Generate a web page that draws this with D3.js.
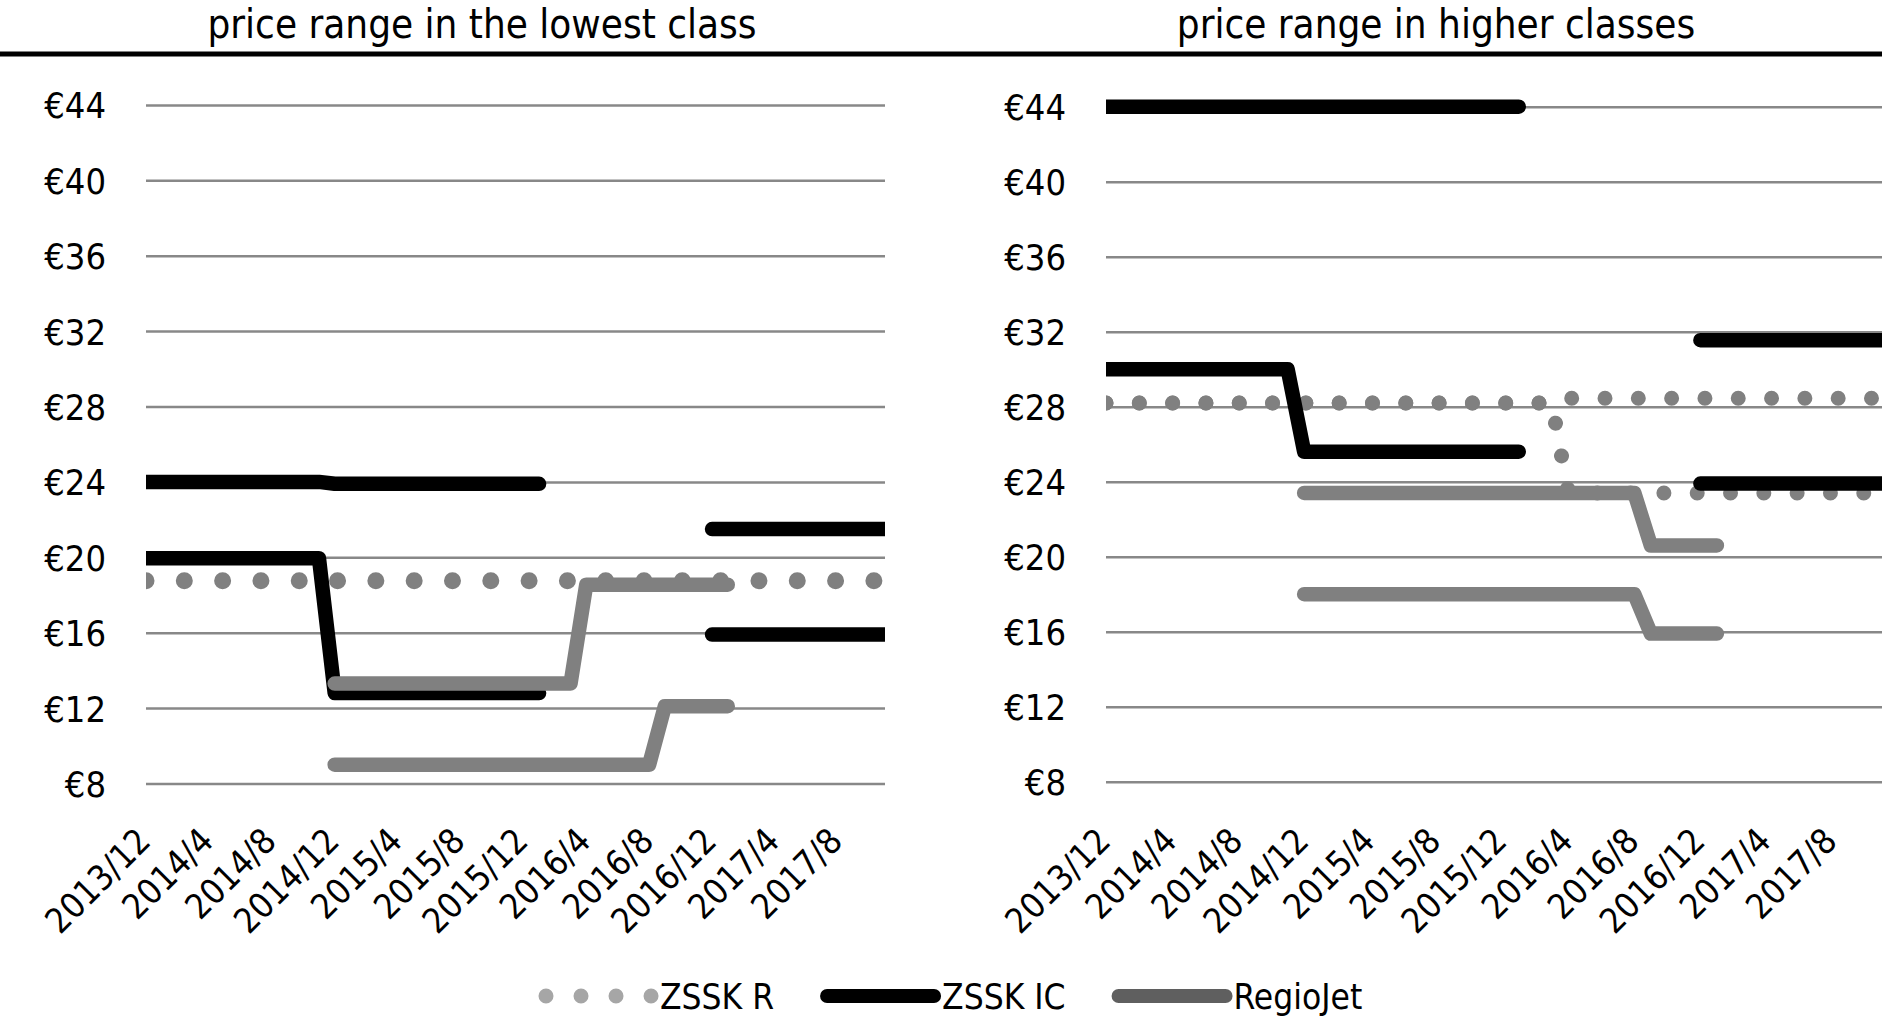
<!DOCTYPE html>
<html>
<head>
<meta charset="utf-8">
<script src="https://cdn.jsdelivr.net/npm/d3@7"></script>
<style>
  html, body { margin: 0; padding: 0; background: #fff; }
  svg { display: block; }
  text { font-family: "DejaVu Sans Condensed", "DejaVu Sans", sans-serif; font-stretch: condensed; fill: #000; }
</style>
</head>
<body>
<div class="container"></div>
<script>
const WIDTH = 1882;
const HEIGHT = 1023;
const _ = null;

// monthly categories, Dec 2013 .. Nov 2017
const months = [
  "2013/12",
  "2014/1","2014/2","2014/3","2014/4","2014/5","2014/6","2014/7","2014/8","2014/9","2014/10","2014/11","2014/12",
  "2015/1","2015/2","2015/3","2015/4","2015/5","2015/6","2015/7","2015/8","2015/9","2015/10","2015/11","2015/12",
  "2016/1","2016/2","2016/3","2016/4","2016/5","2016/6","2016/7","2016/8","2016/9","2016/10","2016/11","2016/12",
  "2017/1","2017/2","2017/3","2017/4","2017/5","2017/6","2017/7","2017/8","2017/9","2017/10","2017/11"
];
const tickLabels = ["2013/12","2014/4","2014/8","2014/12","2015/4","2015/8","2015/12","2016/4","2016/8","2016/12","2017/4","2017/8"];
const priceTicks = [8, 12, 16, 20, 24, 28, 32, 36, 40, 44];
const seriesNames = ["ZSSK R", "ZSSK IC", "RegioJet"];
const panelTitles = ["price range in the lowest class", "price range in higher classes"];

// lowest class
const lowZsskR = [
  18.75,18.75,18.75,18.75,18.75,18.75,18.75,18.75,18.75,18.75,18.75,18.75,
  18.75,18.75,18.75,18.75,18.75,18.75,18.75,18.75,18.75,18.75,18.75,18.75,
  18.75,18.75,18.75,18.75,18.75,18.75,18.75,18.75,18.75,18.75,18.75,18.75,
  18.75,18.75,18.75,18.75,18.75,18.75,18.75,18.75,18.75,18.75,18.75,18.75
];
const lowIcMax = [
  24,24,24,24,24,24,24,24,24,24,24,24,
  23.9,23.9,23.9,23.9,23.9,23.9,23.9,23.9,23.9,23.9,23.9,23.9,
  23.9,23.9,_,_,_,_,_,_,_,_,_,_,
  21.5,21.5,21.5,21.5,21.5,21.5,21.5,21.5,21.5,21.5,21.5,21.5
];
const lowIcMin = [
  19.95,19.95,19.95,19.95,19.95,19.95,19.95,19.95,19.95,19.95,19.95,19.95,
  12.8,12.8,12.8,12.8,12.8,12.8,12.8,12.8,12.8,12.8,12.8,12.8,
  12.8,12.8,_,_,_,_,_,_,_,_,_,_,
  15.9,15.9,15.9,15.9,15.9,15.9,15.9,15.9,15.9,15.9,15.9,15.9
];
const lowRjMax = [
  _,_,_,_,_,_,_,_,_,_,_,_,
  13.3,13.3,13.3,13.3,13.3,13.3,13.3,13.3,13.3,13.3,13.3,13.3,
  13.3,13.3,13.3,13.3,18.55,18.55,18.55,18.55,18.55,18.55,18.55,18.55,
  18.55,18.55,_,_,_,_,_,_,_,_,_,_
];
const lowRjMin = [
  _,_,_,_,_,_,_,_,_,_,_,_,
  9,9,9,9,9,9,9,9,9,9,9,9,
  9,9,9,9,9,9,9,9,9,12.1,12.1,12.1,
  12.1,12.1,_,_,_,_,_,_,_,_,_,_
];

// higher classes
const hiZsskRMax = [
  28.2,28.2,28.2,28.2,28.2,28.2,28.2,28.2,28.2,28.2,28.2,28.2,
  28.2,28.2,28.2,28.2,28.2,28.2,28.2,28.2,28.2,28.2,28.2,28.2,
  28.2,28.2,28.2,28.2,28.45,28.45,28.45,28.45,28.45,28.45,28.45,28.45,
  28.45,28.45,28.45,28.45,28.45,28.45,28.45,28.45,28.45,28.45,28.45,28.45
];
const hiZsskRMin = [
  28.2,28.2,28.2,28.2,28.2,28.2,28.2,28.2,28.2,28.2,28.2,28.2,
  28.2,28.2,28.2,28.2,28.2,28.2,28.2,28.2,28.2,28.2,28.2,28.2,
  28.2,28.2,28.2,28.2,23.4,23.4,23.4,23.4,23.4,23.4,23.4,23.4,
  23.4,23.4,23.4,23.4,23.4,23.4,23.4,23.4,23.4,23.4,23.4,23.4
];
const hiIcMax = [
  44,44,44,44,44,44,44,44,44,44,44,44,
  44,44,44,44,44,44,44,44,44,44,44,44,
  44,44,_,_,_,_,_,_,_,_,_,_,
  31.55,31.55,31.55,31.55,31.55,31.55,31.55,31.55,31.55,31.55,31.55,31.55
];
const hiIcMin = [
  30,30,30,30,30,30,30,30,30,30,30,30,
  25.6,25.6,25.6,25.6,25.6,25.6,25.6,25.6,25.6,25.6,25.6,25.6,
  25.6,25.6,_,_,_,_,_,_,_,_,_,_,
  23.9,23.9,23.9,23.9,23.9,23.9,23.9,23.9,23.9,23.9,23.9,23.9
];
const hiRjMax = [
  _,_,_,_,_,_,_,_,_,_,_,_,
  23.4,23.4,23.4,23.4,23.4,23.4,23.4,23.4,23.4,23.4,23.4,23.4,
  23.4,23.4,23.4,23.4,23.4,23.4,23.4,23.4,23.4,20.6,20.6,20.6,
  20.6,20.6,_,_,_,_,_,_,_,_,_,_
];
const hiRjMin = [
  _,_,_,_,_,_,_,_,_,_,_,_,
  18,18,18,18,18,18,18,18,18,18,18,18,
  18,18,18,18,18,18,18,18,18,15.9,15.9,15.9,
  15.9,15.9,_,_,_,_,_,_,_,_,_,_
];


var translate = function(x, y){
    return "translate(" + x + "," + y + ")";
};

var svg = d3.select(".container").append("svg")
    .attr("width", WIDTH)
    .attr("height", HEIGHT);

var panels = [
    {id: "low", title: panelTitles[0], titleX: 482, x0: 146, x1: 885, yBottom: 783.5, yTop: 104.9,
     dotWidth: 17, dotGap: 38.3,
     series: [
        {name: "ZSSK R", values: lowZsskR},
        {name: "ZSSK IC", values: lowIcMax},
        {name: "ZSSK IC", values: lowIcMin},
        {name: "RegioJet", values: lowRjMax},
        {name: "RegioJet", values: lowRjMin}
     ]},
    {id: "high", title: panelTitles[1], titleX: 1436, x0: 1106, x1: 1882, yBottom: 781.7, yTop: 106.7,
     dotWidth: 15, dotGap: 33.3,
     series: [
        {name: "ZSSK R", values: hiZsskRMax},
        {name: "ZSSK R", values: hiZsskRMin},
        {name: "ZSSK IC", values: hiIcMax},
        {name: "ZSSK IC", values: hiIcMin},
        {name: "RegioJet", values: hiRjMax},
        {name: "RegioJet", values: hiRjMin}
     ]}
];

var styleLine = function(sel, name, panel){
    sel.attr("fill", "none")
        .attr("stroke-linecap", "round")
        .attr("stroke-linejoin", "round");
    if (name === "ZSSK R") {
        sel.attr("stroke", "#808080")
            .attr("stroke-width", panel.dotWidth)
            .attr("stroke-dasharray", "0.01," + panel.dotGap);
    } else if (name === "ZSSK IC") {
        sel.attr("stroke", "#000").attr("stroke-width", 14.5);
    } else {
        sel.attr("stroke", "#808080").attr("stroke-width", 14.5);
    }
};

var drawPanel = function(panel){
    var x = d3.scalePoint().domain(months).range([panel.x0, panel.x1]);
    var y = d3.scaleLinear().domain([8, 44]).range([panel.yBottom, panel.yTop]);

    // title
    svg.append("text")
        .attr("x", panel.titleX)
        .attr("y", 38)
        .attr("text-anchor", "middle")
        .attr("font-size", 40)
        .text(panel.title);

    // gridlines + price labels
    var yAxis = d3.axisLeft(y)
        .tickValues(priceTicks)
        .tickSize(-(panel.x1 - panel.x0))
        .tickPadding(40)
        .tickFormat(function(d){ return "€" + d; });

    var gy = svg.append("g")
        .attr("transform", translate(panel.x0, 0))
        .call(yAxis);
    gy.select(".domain").remove();
    gy.selectAll(".tick line").attr("stroke", "#888").attr("stroke-width", 2.5);
    gy.selectAll(".tick text")
        .attr("font-size", 36)
        .attr("font-family", null)
        .attr("dy", "0.36em");
    gy.attr("font-family", null).attr("font-size", null);

    // month labels
    var xAxis = d3.axisBottom(x).tickValues(tickLabels).tickSize(0);
    var gx = svg.append("g")
        .attr("transform", translate(0, 843))
        .call(xAxis);
    gx.select(".domain").remove();
    gx.attr("font-family", null).attr("font-size", null);
    gx.selectAll(".tick text")
        .attr("x", 0).attr("y", 0).attr("dy", 0)
        .attr("font-size", 35)
        .attr("text-anchor", "end")
        .attr("transform", "translate(6,0) rotate(-45)");

    // plot area clip
    svg.append("clipPath").attr("id", "clip-" + panel.id)
        .append("rect")
        .attr("x", panel.x0).attr("y", 60)
        .attr("width", panel.x1 - panel.x0).attr("height", 740);

    var line = d3.line()
        .defined(function(d){ return d != null; })
        .x(function(d, i){ return x(months[i]); })
        .y(function(d){ return y(d); });

    var g = svg.append("g").attr("clip-path", "url(#clip-" + panel.id + ")");
    seriesNames.forEach(function(name){
        panel.series.filter(function(s){ return s.name === name; }).forEach(function(s){
            g.append("path")
                .datum(s.values)
                .attr("d", line)
                .call(styleLine, name, panel);
        });
    });
};

// heavy rule under the titles
svg.append("line")
    .attr("x1", 0).attr("x2", WIDTH)
    .attr("y1", 54).attr("y2", 54)
    .attr("stroke", "#000").attr("stroke-width", 5);

panels.forEach(drawPanel);

// legend
var legendY = 996;
var cursor = 538;
var legend = svg.append("g");
seriesNames.forEach(function(name){
    var sample = legend.append("line")
        .attr("y1", legendY).attr("y2", legendY)
        .attr("stroke-linecap", "round");
    if (name === "ZSSK R") {
        sample.attr("x1", cursor + 8).attr("x2", cursor + 122)
            .attr("stroke", "#a6a6a6").attr("stroke-width", 15)
            .attr("stroke-dasharray", "0.01,35");
    } else {
        sample.attr("x1", cursor + 7).attr("x2", cursor + 114)
            .attr("stroke", name === "ZSSK IC" ? "#000" : "#5f5f5f")
            .attr("stroke-width", 14);
    }
    var label = legend.append("text")
        .attr("x", cursor + 122)
        .attr("y", legendY + 13)
        .attr("font-size", 35)
        .text(name);
    cursor += 122 + label.node().getComputedTextLength() + 46;
});
</script>
</body>
</html>
